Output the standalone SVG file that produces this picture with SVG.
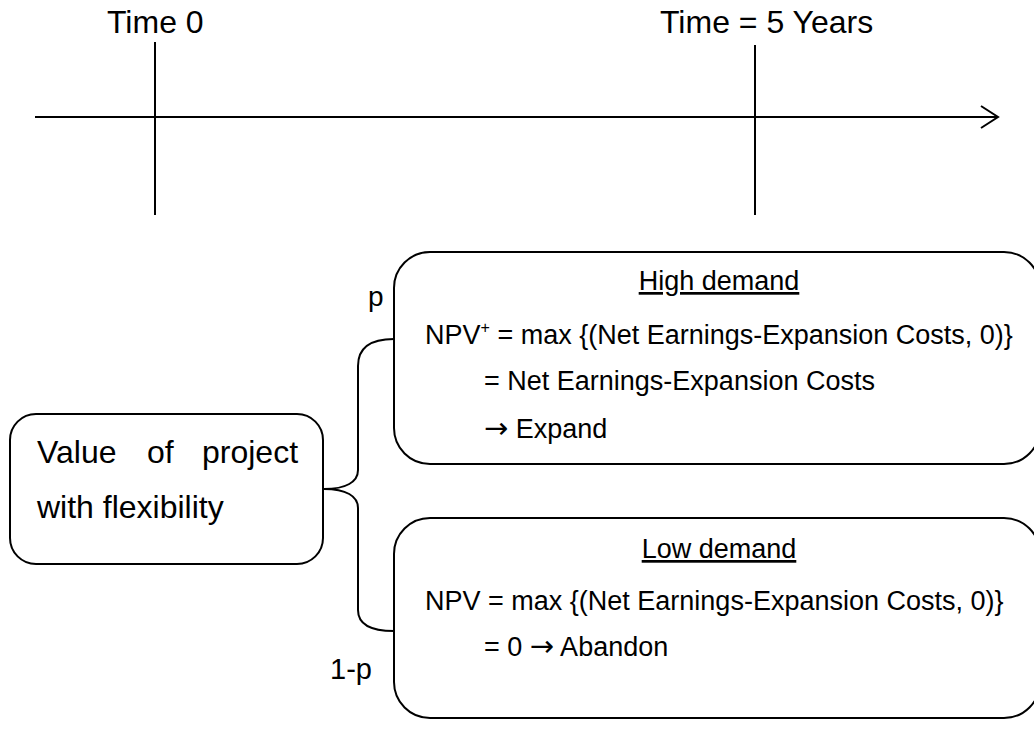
<svg xmlns="http://www.w3.org/2000/svg" width="1034" height="738" viewBox="0 0 1034 738">
  <style>
    .t { font-family: "Liberation Sans", Arial, sans-serif; fill: #000; }
    .big { font-size: 32px; }
    .box { font-size: 27px; }
    .arr { font-family: "DejaVu Sans", sans-serif; font-size: 29px; }
    .node { fill: #fff; stroke: #000; stroke-width: 2; }
    .ln { fill: none; stroke: #000; stroke-width: 2; }
  </style>
  <rect width="1034" height="738" fill="#fff"/>

  <!-- timeline -->
  <g id="timeline">
    <line class="ln" x1="35" y1="117" x2="997" y2="117"/>
    <polyline class="ln" points="981,106 998,117 981,128"/>
    <line class="ln" x1="155" y1="42" x2="155" y2="215"/>
    <line class="ln" x1="755" y1="45" x2="755" y2="215"/>
    <text class="t big" x="107" y="33">Time 0</text>
    <text class="t big" x="660" y="33">Time = 5 Years</text>
  </g>

  <!-- brace connecting the project node to both outcomes -->
  <g id="connectors">
    <path class="ln" d="M394,339 C370,339 358,348 358,366 L358,470 C358,482 346,489 324,489 C346,489 358,496 358,508 L358,610 C358,624 370,631 394,631"/>
    <text class="t" x="368" y="306" font-size="28">p</text>
    <text class="t" x="330" y="679" font-size="29">1-p</text>
  </g>

  <g id="project">
    <rect class="node" x="10" y="414" width="313" height="150" rx="26"/>
    <text class="t" font-size="32" y="463"><tspan x="37">Value</tspan><tspan x="147">of</tspan><tspan x="202">project</tspan></text>
    <text class="t" font-size="32" x="37" y="518">with flexibility</text>
  </g>

  <g id="high-demand">
    <rect class="node" x="394" y="252" width="646" height="212" rx="36"/>
    <text class="t box" x="719" y="290" text-anchor="middle" text-decoration="underline">High demand</text>
    <text class="t box" x="425" y="344">NPV<tspan font-size="16" dy="-11">+</tspan><tspan dy="11"> = max {(Net Earnings-Expansion Costs, 0)}</tspan></text>
    <text class="t box" x="484" y="390">= Net Earnings-Expansion Costs</text>
    <text class="t box" x="484" y="438"><tspan class="arr">→</tspan> Expand</text>
  </g>

  <g id="low-demand">
    <rect class="node" x="394" y="518" width="646" height="200" rx="36"/>
    <text class="t box" x="719" y="558" text-anchor="middle" text-decoration="underline">Low demand</text>
    <text class="t box" x="425" y="610">NPV = max {(Net Earnings-Expansion Costs, 0)}</text>
    <text class="t box" x="484" y="656">= 0 <tspan class="arr">→</tspan> Abandon</text>
  </g>
</svg>
